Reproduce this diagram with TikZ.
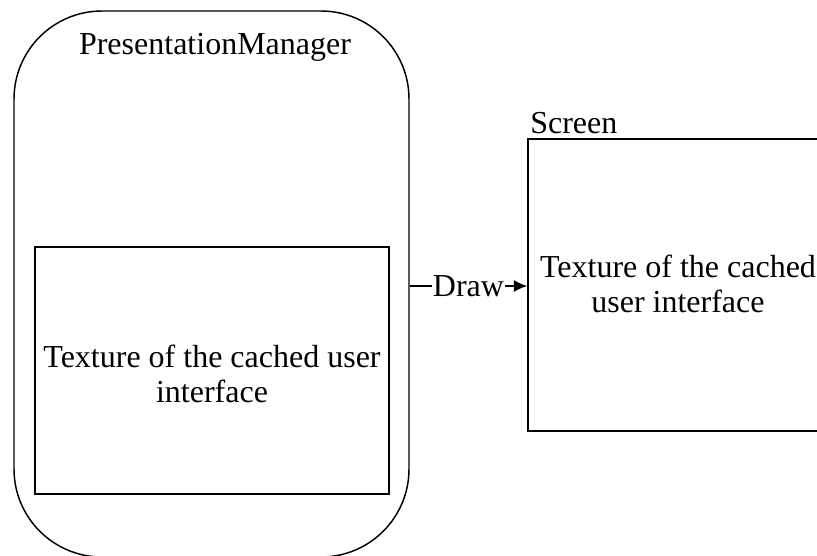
\documentclass[tikz,border=0pt]{standalone}
\usepackage{fontspec}
\setmainfont{Liberation Serif}
\usetikzlibrary{arrows.meta}
\begin{document}
\begin{tikzpicture}[x=0.75pt,y=-0.75pt,
  every node/.style={font=\fontsize{24pt}{26.25pt}\selectfont, inner sep=0pt},
  box/.style={draw=black, line width=1.1pt, rectangle},
  lbl/.style={align=center}]
\useasboundingbox (0,0) rectangle (817,556);
\clip (0,0) rectangle (817,556);
\node[box, rounded corners=66pt, minimum width=296.25pt, minimum height=409.5pt] (pm) at (211.5,284) {};
\node (pmlbl) at (215,47) {PresentationManager};
\node[box, minimum width=265.5pt, minimum height=185.25pt] (tex) at (212,370.5) {};
\node[lbl] (texlbl) at (212,374) {Texture of the cached user\\interface};
\node[box, minimum width=226.5pt, minimum height=219pt] (scr) at (679,285) {};
\node[anchor=west] (scrlbl) at (530,123) {Screen};
\node[lbl] (scrtxt) at (678,284) {Texture of the cached\\user interface};
\draw[line width=1.1pt, -{Latex[length=10pt,width=9pt]}] (pm.east |- 0,286) -- node[fill=white, inner xsep=1pt] (drawlbl) {Draw} (scr.west |- 0,286);
\end{tikzpicture}
\end{document}
